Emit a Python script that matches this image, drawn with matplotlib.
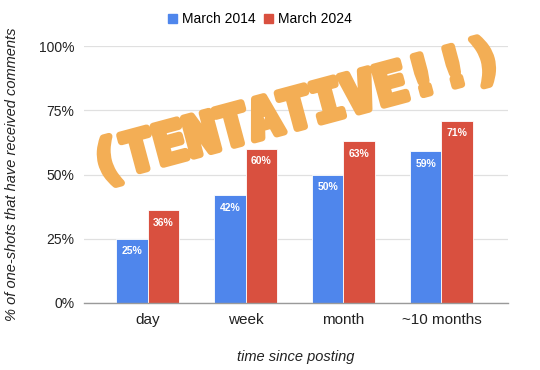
import matplotlib
matplotlib.use("Agg")
import matplotlib.pyplot as plt
import matplotlib.patheffects as pe
import numpy as np
from matplotlib.patches import Patch

plt.rcParams['font.family'] = ['Liberation Sans', 'DejaVu Sans']

categories = ["day", "week", "month", "~10 months"]
series_names = ["March 2014", "March 2024"]
values_2014 = [25, 42, 50, 59]
values_2024 = [36, 60, 63, 71]
yticks = [0, 25, 50, 75, 100]
ytick_labels = ["0%", "25%", "50%", "75%", "100%"]
colors = ["#4f86ec", "#d9503f"]

fig = plt.figure(figsize=(5.4, 3.7), dpi=100)
ax = fig.add_axes([84/540, 1 - 303/370, (508-84)/540, (303-46)/370])

x = np.arange(len(categories))
w = 0.32
for vals, off, c in [(values_2014, -w/2, colors[0]), (values_2024, w/2, colors[1])]:
    bars = ax.bar(x + off, vals, width=w, color=c, edgecolor="white", linewidth=0.6, zorder=3)
    for b, v in zip(bars, vals):
        ax.annotate(f"{v}%", (b.get_x() + b.get_width()/2, v), xytext=(0, -9),
                    textcoords="offset points", ha="center", va="center",
                    color="white", fontsize=7.5, fontweight="bold", zorder=4)

ax.set_xlim(-0.65, 3.68)
ax.set_ylim(0, 100)
ax.set_yticks(yticks)
ax.set_yticklabels(ytick_labels)
ax.set_xticks(x)
ax.set_xticklabels(categories, fontsize=11)
ax.tick_params(axis="both", length=0, colors="#222222")
ax.tick_params(axis="y", labelsize=10, pad=7)
ax.tick_params(axis="x", pad=7)
for s in ["top", "right", "left"]:
    ax.spines[s].set_visible(False)
ax.spines["bottom"].set_color("#9a9a9a")
ax.spines["bottom"].set_linewidth(1)
ax.spines["bottom"].set_zorder(5)
ax.grid(axis="y", color="#e0e0e0", linewidth=0.9, zorder=0)
ax.set_axisbelow(True)

ax.set_xlabel("time since posting", fontsize=10.5, style="italic", labelpad=17, color="#222222")
ax.set_ylabel("% of one-shots that have received comments", fontsize=10.5, style="italic",
              labelpad=14, color="#222222")

handles = [Patch(color=colors[0], label=series_names[0]), Patch(color=colors[1], label=series_names[1])]
fig.legend(handles=handles, loc="center", bbox_to_anchor=(0.482, 1 - 19/370), ncol=2,
           frameon=False, fontsize=10, handlelength=0.6, handleheight=0.6,
           handletextpad=0.4, columnspacing=0.6)

wm_color = "#f3ae55"
fig.text(297/540, 1 - 113/370, "(TENTATIVE!!)", rotation=15, ha="center", va="center",
         fontsize=39, fontweight="bold", family="DejaVu Sans Mono", color=wm_color, zorder=10,
         path_effects=[pe.Stroke(linewidth=5, foreground=wm_color, joinstyle="round"), pe.Normal()])

fig.savefig("out.png", dpi=100)
